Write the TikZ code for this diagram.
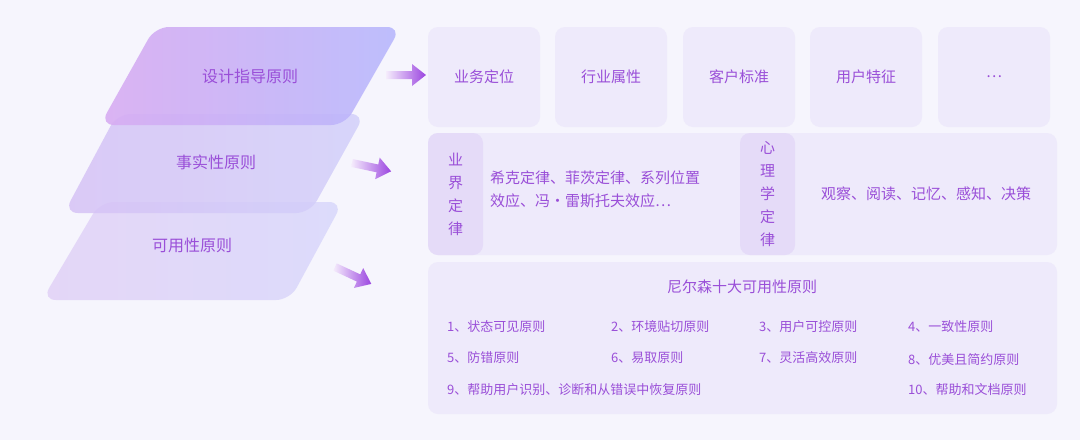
\documentclass[tikz,border=0pt]{standalone}
\usepackage{fontspec}
\setmainfont{Noto Sans CJK SC}
\begin{document}
\begin{tikzpicture}[x=1pt,y=-1pt,
  txt/.style={text=tc,font=\fontsize{13}{15}\selectfont,inner sep=0,anchor=west},
  big/.style={text=tc,font=\fontsize{16}{18}\selectfont},
  card/.style={fill=cardc,rounded corners=10pt,draw=none},
  pill/.style={fill=pillc,rounded corners=10pt,draw=none}]
\definecolor{tc}{HTML}{9A4FD8}
\definecolor{cardc}{HTML}{EEEAFB}
\definecolor{pillc}{HTML}{E5DBF8}
\definecolor{bgc}{HTML}{F6F5FD}
\definecolor{arr}{HTML}{9B45E0}
\definecolor{p2l}{HTML}{D6C2F5}
\definecolor{p2r}{HTML}{D2D0FA}
\definecolor{p3l}{HTML}{E3D3F7}
\definecolor{p3r}{HTML}{DAD9FB}
\fill[bgc] (0,0) rectangle (1080,440);
\useasboundingbox (0,0) rectangle (1080,440);
% parallelograms (bottom first)
\shade[left color=p3l,right color=p3r,opacity=0.9,rounded corners=14pt]
  (100,202) -- (343,202) -- (290,300) -- (42,300) -- cycle;
\shade[left color=p2l,right color=p2r,opacity=0.85,rounded corners=14pt]
  (117,114) -- (365,114) -- (310,213) -- (64,213) -- cycle;
\shade[left color={rgb,255:red,216;green,172;blue,242},right color={rgb,255:red,184;green,184;blue,252},opacity=0.9,rounded corners=14pt]
  (155,27) -- (401,27) -- (345,125) -- (100,125) -- cycle;
\node[big] (p1) at (250,76) {设计指导原则};
\node[big] (p2) at (216,162) {事实性原则};
\node[big] (p3) at (192,245) {可用性原则};
% arrows
\foreach \a/\b/\ang in {386/75/0, 352/163/-12, 335/267/-25}{
  \begin{scope}[shift={(\a,\b)},rotate=\ang]
    \shade[left color=arr!10,right color=arr] (0,-4) -- (26,-4) -- (26,-11) -- (40,0) -- (26,11) -- (26,4) -- (0,4) -- cycle;
  \end{scope}}
% top cards
\foreach \x/\t/\n in {428/业务定位/c1,555/行业属性/c2,683/客户标准/c3,810/用户特征/c4,938/{…}/c5}{
  \fill[card] (\x,27) rectangle ++(112,100);
  \node[big,font=\fontsize{15}{16}\selectfont] (\n) at (\x+56,77) {\t};}
% middle
\fill[card] (428,133) rectangle (1057,255);
\fill[pill] (428,133) rectangle (483,255);
\fill[pill] (740,133) rectangle (795,255);
\node[big,font=\fontsize{15}{23}\selectfont,align=center] (m1) at (455.5,194) {业\\界\\定\\律};
\node[big,font=\fontsize{15}{23}\selectfont,align=center] (m2) at (767.5,194) {心\\理\\学\\定\\律};
\node[txt,font=\fontsize{15}{23}\selectfont,align=left] (m3) at (490,189) {希克定律、菲茨定律、系列位置\\效应、冯·雷斯托夫效应…};
\node[big,font=\fontsize{15}{16}\selectfont] (m4) at (926,194) {观察、阅读、记忆、感知、决策};
% bottom
\fill[card] (428,262) rectangle (1057,414);
\node[big,font=\fontsize{15}{16}\selectfont] (bt) at (742,287) {尼尔森十大可用性原则};
\node[txt] (r1) at (447,327) {1、状态可见原则};
\node[txt] (r2) at (611,327) {2、环境贴切原则};
\node[txt] (r3) at (759,327) {3、用户可控原则};
\node[txt] (r4) at (908,327) {4、一致性原则};
\node[txt] (r5) at (447,358) {5、防错原则};
\node[txt] (r6) at (611,358) {6、易取原则};
\node[txt] (r7) at (759,358) {7、灵活高效原则};
\node[txt] (r8) at (908,360) {8、优美且简约原则};
\node[txt] (r9) at (447,390) {9、帮助用户识别、诊断和从错误中恢复原则};
\node[txt] (r10) at (908,390) {10、帮助和文档原则};
\end{tikzpicture}
\end{document}
